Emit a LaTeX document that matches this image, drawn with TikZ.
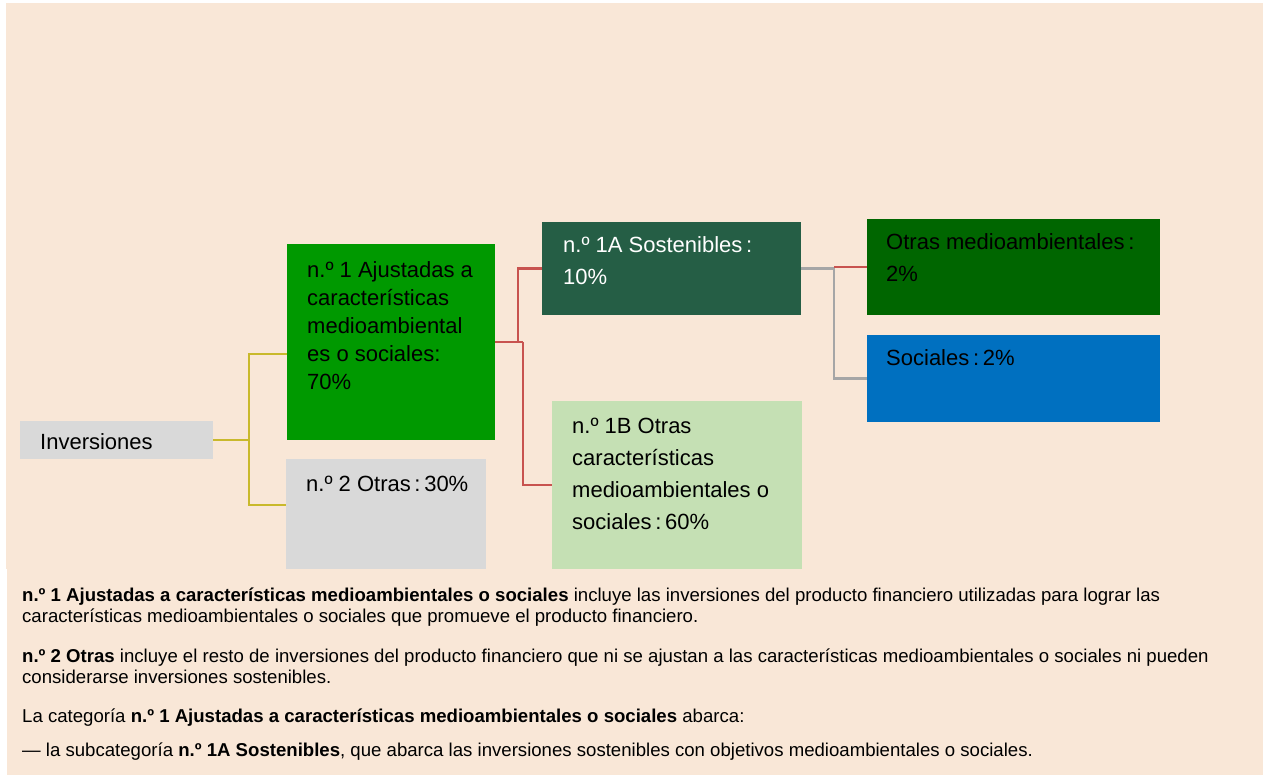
\documentclass[tikz,border=0pt]{standalone}
\usepackage{fontspec}
\setmainfont{Liberation Sans}
\definecolor{bgc}{HTML}{F9E7D7}
\definecolor{gA}{HTML}{009900}
\definecolor{gB}{HTML}{255E45}
\definecolor{gC}{HTML}{C5E0B4}
\definecolor{gD}{HTML}{006600}
\definecolor{bS}{HTML}{0070C0}
\definecolor{grb}{HTML}{D9D9D9}
\definecolor{yl}{HTML}{C9B92C}
\definecolor{rd}{HTML}{C8534F}
\definecolor{gl}{HTML}{A6A6A6}
\begin{document}
\begin{tikzpicture}[x=1pt,y=-1pt,
  box/.style={rectangle,inner sep=0pt,outer sep=0pt,anchor=north west},
  btxt/.style={inner sep=0pt,anchor=base west,align=left,font=\fontsize{22}{28}\selectfont},
  btxtw/.style={inner sep=0pt,anchor=base west,align=left,font=\fontsize{22}{32}\selectfont},
  foot/.style={inner sep=0pt,anchor=base west,font=\fontsize{18.6}{21}\selectfont},
  yln/.style={draw=yl,line width=2.2pt},
  rln/.style={draw=rd,line width=2.2pt},
  gln/.style={draw=gl,line width=2.6pt}]
\useasboundingbox (0,0) rectangle (1263,775);
\fill[white] (0,0) rectangle (1263,775);
\fill[bgc] (6,3) rectangle (1263,569);
\fill[bgc] (7,569) rectangle (1263,775);
% boxes
\node[box,fill=grb,minimum width=193pt,minimum height=38pt] (b0) at (20,421) {};
\node[box,fill=gA,minimum width=208pt,minimum height=196pt] (b1) at (287,244) {};
\node[box,fill=grb,minimum width=200pt,minimum height=110pt] (b2) at (286,459) {};
\node[box,fill=gB,minimum width=259pt,minimum height=93pt] (b1a) at (542,222) {};
\node[box,fill=gC,minimum width=250pt,minimum height=168pt] (b1b) at (552,401) {};
\node[box,fill=gD,minimum width=293pt,minimum height=96pt] (bom) at (867,219) {};
\node[box,fill=bS,minimum width=293pt,minimum height=87pt] (bso) at (867,335) {};
% texts in boxes (base = last line)
\node[btxt] (t0) at (40,449) {Inversiones};
\node[btxt] (t1) at (307,389) {n.º 1 Ajustadas a\\características\\medioambiental\\es o sociales:\\70\%};
\node[btxt] (t2) at (306,491) {n.º 2 Otras\,:\,30\%};
\node[btxtw,text=white] (t1a) at (563,285) {n.º 1A Sostenibles\,:\\10\%};
\node[btxtw] (t1b) at (572,529) {n.º 1B Otras\\características\\medioambientales o\\sociales\,:\,60\%};
\node[btxtw] (tom) at (886,282) {Otras medioambientales\,:\\2\%};
\node[btxtw] (tso) at (886,366) {Sociales\,:\,2\%};
% connectors
\coordinate (y1) at (249,354);
\coordinate (y2) at (249,505);
\draw[yln] (b0.east) -- (b0.east -| y1);
\draw[yln] (b1.west |- y1) -- (y1) -- (y2) -- (b2.west |- y2);
\coordinate (r1) at (518,268.5);
\coordinate (r0) at (523,342);
\coordinate (r2) at (523,485);
\draw[rln] (b1.east) -- (r0);
\draw[rln] (r1 |- b1.east) -- (r1) -- (b1a.west);
\draw[rln] (r0) -- (r2) -- (b1b.west |- r2);
\coordinate (g1) at (834,268.5);
\draw[gln] (b1a.east) -- (g1) |- (bso.west);
\draw[rln] (g1 |- bom.west) -- (bom.west);
% footnotes
\node[foot] (f1) at (22,601) {\textbf{n.º 1 Ajustadas a características medioambientales o sociales} incluye las inversiones del producto financiero utilizadas para lograr las};
\node[foot] (f2) at (22,622) {características medioambientales o sociales que promueve el producto financiero.};
\node[foot] (f3) at (22,662) {\textbf{n.º 2 Otras} incluye el resto de inversiones del producto financiero que ni se ajustan a las características medioambientales o sociales ni pueden};
\node[foot] (f4) at (22,683) {considerarse inversiones sostenibles.};
\node[foot] (f5) at (22,722) {La categoría \textbf{n.º 1 Ajustadas a características medioambientales o sociales} abarca:};
\node[foot] (f6) at (22,756) {— la subcategoría \textbf{n.º 1A Sostenibles}, que abarca las inversiones sostenibles con objetivos medioambientales o sociales.};
\end{tikzpicture}
\end{document}
